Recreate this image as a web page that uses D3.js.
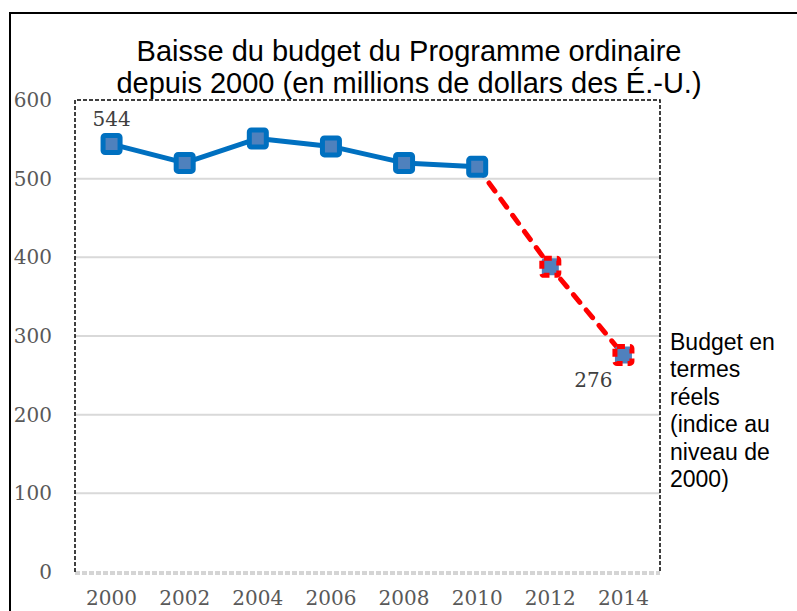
<!DOCTYPE html>
<html>
<head>
<meta charset="utf-8">
<script src="https://cdn.jsdelivr.net/npm/d3@7"></script>
<style>
  body { margin: 0; background: #fff; }
  svg { display: block; }
</style>
</head>
<body>
<div class="container"></div>
<script>
const years = ["2000", "2002", "2004", "2006", "2008", "2010", "2012", "2014"];
const budget = [544, 520, 551, 541, 520, 515, 388, 276];
const yTicks = [0, 100, 200, 300, 400, 500, 600];
const titleLines = [
  "Baisse du budget du Programme ordinaire",
  "depuis 2000 (en millions de dollars des É.-U.)",
];
const sideNote = ["Budget en", "termes", "réels", "(indice au", "niveau de", "2000)"];
const labelled = { "2000": "544", "2014": "276" };
const dashedFrom = 5; // index where the real-terms (red dashed) part starts

const width = 797;
const height = 611;
const plot = { left: 75, right: 660, top: 100, bottom: 572 };

const svg = d3.select(".container").append("svg")
  .attr("width", width)
  .attr("height", height);

// outer frame (only top and left edges visible)
svg.append("path")
  .attr("d", `M10,${height} V13 H${width}`)
  .attr("fill", "none")
  .attr("stroke", "#000")
  .attr("stroke-width", 2);

const x = d3.scaleBand().domain(years).range([plot.left, plot.right]);
const y = d3.scaleLinear().domain([0, 600]).range([plot.bottom, plot.top]);
const cx = (yr) => x(yr) + x.bandwidth() / 2;

// title
svg.append("text")
  .attr("x", 409)
  .attr("y", 61)
  .attr("text-anchor", "middle")
  .style("font-family", "'Liberation Sans', Arial, sans-serif")
  .style("font-size", "29px")
  .selectAll("tspan")
  .data(titleLines)
  .join("tspan")
  .attr("x", 409)
  .attr("dy", (d, i) => (i === 0 ? 0 : 32))
  .text((d) => d);

// gridlines
svg.append("g")
  .selectAll("line")
  .data(yTicks.filter((t) => t > 0 && t < 600))
  .join("line")
  .attr("x1", plot.left)
  .attr("x2", plot.right)
  .attr("y1", (d) => y(d))
  .attr("y2", (d) => y(d))
  .attr("stroke", "#d9d9d9")
  .attr("stroke-width", 2);

// bottom axis line (grey dashed, doubled)
[0, 2].forEach((off) => {
  svg.append("line")
    .attr("x1", plot.left)
    .attr("x2", plot.right)
    .attr("y1", y(0) + off)
    .attr("y2", y(0) + off)
    .attr("stroke", "#aaa")
    .attr("stroke-width", 1)
    .attr("stroke-dasharray", "5,2");
});

// dashed plot box (top, left, right)
svg.append("path")
  .attr("d", `M${plot.left},${plot.bottom} V${plot.top} H${plot.right} V${plot.bottom}`)
  .attr("fill", "none")
  .attr("stroke", "#000")
  .attr("stroke-width", 1.5)
  .attr("stroke-dasharray", "4,2");

// axes
const axisFont = "'DejaVu Serif', serif";
const yAxis = svg.append("g")
  .attr("transform", `translate(${plot.left},0)`)
  .call(d3.axisLeft(y).tickValues(yTicks).tickSize(0).tickPadding(23));
yAxis.select(".domain").remove();
yAxis.selectAll("text")
  .style("font-family", axisFont)
  .style("font-size", "20px")
  .attr("fill", "#595959");

const xAxis = svg.append("g")
  .attr("transform", `translate(0,${plot.bottom})`)
  .call(d3.axisBottom(x).tickSize(0).tickPadding(19));
xAxis.select(".domain").remove();
xAxis.selectAll("text")
  .style("font-family", axisFont)
  .style("font-size", "20px")
  .attr("fill", "#595959");

// series
const points = years.map((yr, i) => ({ year: yr, value: budget[i], i }));
const line = d3.line().x((d) => cx(d.year)).y((d) => y(d.value));

svg.append("path")
  .datum(points.slice(0, dashedFrom + 1))
  .attr("d", line)
  .attr("fill", "none")
  .attr("stroke", "#0070c0")
  .attr("stroke-width", 5)
  .attr("stroke-linejoin", "round");

svg.append("path")
  .datum(points.slice(dashedFrom))
  .attr("d", line)
  .attr("fill", "none")
  .attr("stroke", "#ff0000")
  .attr("stroke-width", 5)
  .attr("stroke-linecap", "round")
  .attr("stroke-dasharray", "10,10");

// markers
const ms = 17;
svg.append("g")
  .selectAll("rect")
  .data(points)
  .join("rect")
  .attr("x", (d) => cx(d.year) - ms / 2)
  .attr("y", (d) => y(d.value) - ms / 2)
  .attr("width", ms)
  .attr("height", ms)
  .attr("rx", 2)
  .attr("fill", "#4f81bd")
  .attr("stroke", (d) => (d.i > dashedFrom ? "#ff0000" : "#0070c0"))
  .attr("stroke-width", 5)
  .attr("stroke-dasharray", (d) => (d.i > dashedFrom ? "8,5" : null));

// data labels
svg.append("g")
  .selectAll("text")
  .data(points.filter((d) => labelled[d.year]))
  .join("text")
  .attr("x", (d) => (d.i === 0 ? cx(d.year) : cx(d.year) - 30))
  .attr("y", (d) => (d.i === 0 ? y(d.value) - 18 : y(d.value) + 32))
  .attr("text-anchor", "middle")
  .style("font-family", axisFont)
  .style("font-size", "20px")
  .attr("fill", "#404040")
  .text((d) => labelled[d.year]);

// side note
svg.append("text")
  .attr("x", 670)
  .attr("y", 350)
  .style("font-family", "'Liberation Sans', Arial, sans-serif")
  .style("font-size", "23px")
  .selectAll("tspan")
  .data(sideNote)
  .join("tspan")
  .attr("x", 670)
  .attr("dy", (d, i) => (i === 0 ? 0 : 27.4))
  .text((d) => d);
</script>
</body>
</html>
